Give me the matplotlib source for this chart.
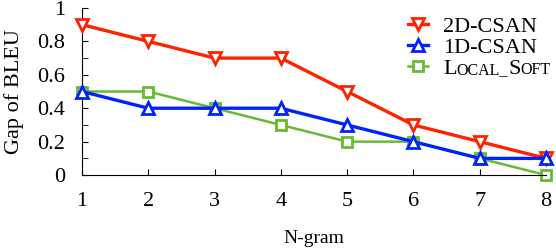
import matplotlib
matplotlib.use('Agg')
import matplotlib.pyplot as plt
from matplotlib.ticker import MultipleLocator
from matplotlib.transforms import IdentityTransform

ngram = [1, 2, 3, 4, 5, 6, 7, 8]
csan_2d = [0.9, 0.8, 0.7, 0.7, 0.5, 0.3, 0.2, 0.1]
csan_1d = [0.5, 0.4, 0.4, 0.4, 0.3, 0.2, 0.1, 0.1]
local_soft = [0.5, 0.5, 0.4, 0.3, 0.2, 0.2, 0.1, 0.0]

plt.rcParams['font.family'] = ['Liberation Serif', 'DejaVu Serif']
plt.rcParams['font.size'] = 16

fig = plt.figure(figsize=(5.56, 2.48), dpi=100)
ax = fig.add_axes([0.1475, 0.294, 0.8345, 0.674])

ax.plot(ngram, csan_2d, color='#ff2200', lw=2.4, marker='v', ms=9, mew=2,
        mfc='white', label='2D-CSAN', clip_on=False, zorder=3)
ax.plot(ngram, csan_1d, color='#0022ff', lw=2.4, marker='^', ms=9, mew=2,
        mfc='white', label='1D-CSAN', clip_on=False, zorder=4)
ax.plot(ngram, local_soft, color='#66bb33', lw=1.8, marker='s', ms=7.5, mew=2,
        mfc='white', label='L', clip_on=False, zorder=2)

ax.set_xlim(1, 8)
ax.set_ylim(0, 1)
ax.set_yticks([0, 0.2, 0.4, 0.6, 0.8, 1])
ax.set_yticklabels(['0', '0.2', '0.4', '0.6', '0.8', '1'])
ax.yaxis.set_minor_locator(MultipleLocator(0.1))
ax.set_xticks(ngram)
ax.spines['top'].set_visible(False)
ax.spines['right'].set_visible(False)
ax.tick_params(axis='both', which='both', direction='in', length=4)
ax.tick_params(axis='x', pad=12)
ax.tick_params(axis='y', pad=12)
ax.set_xlabel('N-gram', fontsize=14, labelpad=14)
ax.set_ylabel('Gap of BLEU', labelpad=10)

leg = ax.legend(loc='upper left', bbox_to_anchor=(0.703, 0.95), frameon=False,
                borderaxespad=0, borderpad=0, handlelength=0.9,
                labelspacing=0.02, handletextpad=0.68, fontsize=16)

# small caps for the last legend entry: L + OCAL_ + S + OFT
fig.canvas.draw()
r = fig.canvas.get_renderer()
big = leg.get_texts()[2]
x0 = big.get_window_extent(r).x1
y0 = big.get_transform().transform(big.get_position())[1]
for part, size in [('OCAL_', 11.5), ('S', 16), ('OFT', 11.5)]:
    t = fig.text(x0, y0, part, transform=IdentityTransform(), fontsize=size,
                 ha='left', va='baseline')
    x0 = t.get_window_extent(r).x1

fig.savefig('out.png', dpi=100)
